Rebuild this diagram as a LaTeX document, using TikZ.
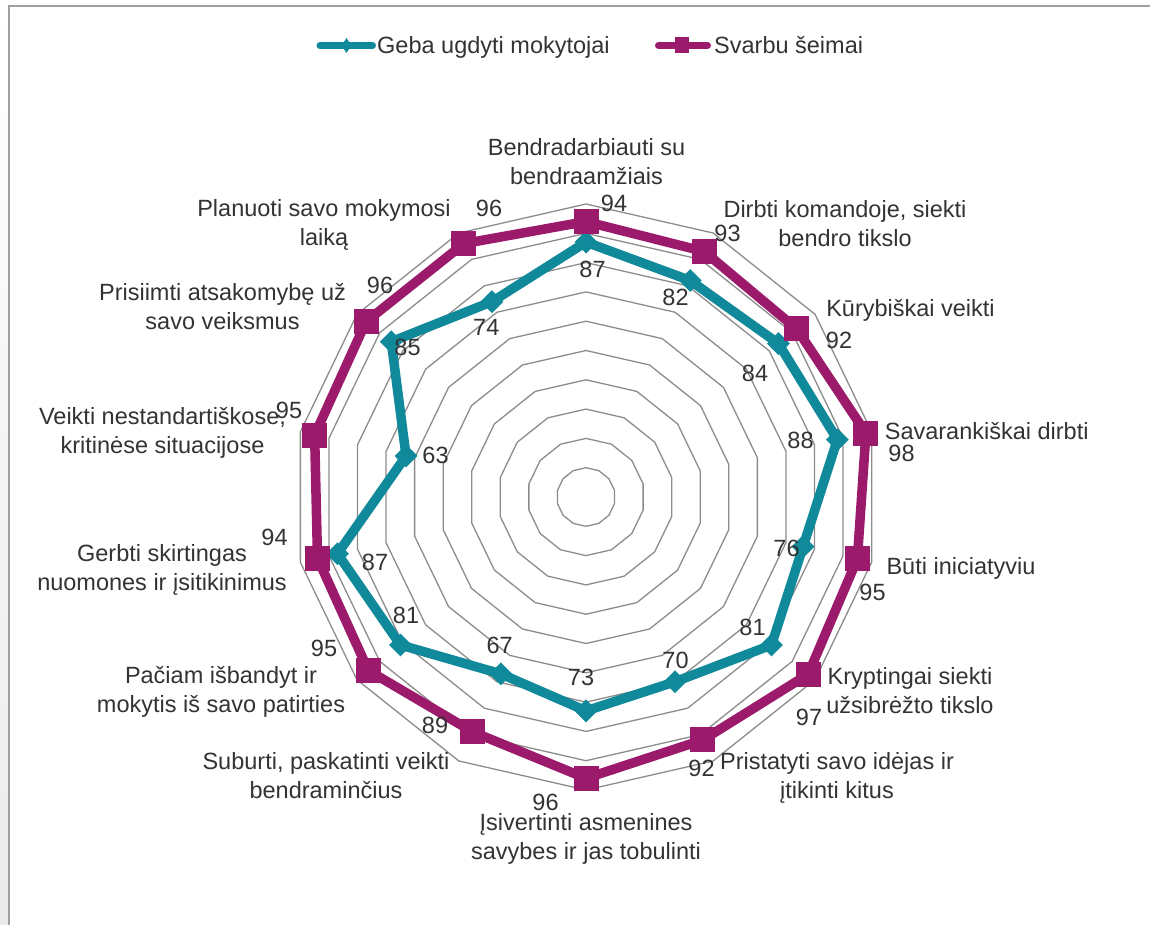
\documentclass[tikz,border=0pt]{standalone}
\usepackage{fontspec}
\setmainfont{Liberation Sans}
\usetikzlibrary{shapes.geometric}
\definecolor{tealc}{HTML}{10899A}
\definecolor{magc}{HTML}{9C1A6C}
\definecolor{gridc}{HTML}{8C8C8C}
\definecolor{txtc}{HTML}{333333}
\definecolor{framec}{HTML}{A0A0A0}
\begin{document}
\begin{tikzpicture}[x=1pt,y=-1pt,
  txt/.style={font=\fontsize{23.5}{29}\selectfont, text=txtc, inner sep=0pt, anchor=base, align=center},
  val/.style={font=\fontsize{23.5}{29}\selectfont, text=txtc, inner sep=0pt, anchor=base},
  ringline/.style={draw=gridc, line width=1.3pt, line join=miter},
  tealline/.style={draw=tealc, line width=9.5pt, line join=round},
  magline/.style={draw=magc, line width=9.5pt, line join=round},
  tmark/.style={diamond, fill=tealc, inner sep=0pt, minimum width=23pt, minimum height=23pt},
  mmark/.style={rectangle, fill=magc, inner sep=0pt, minimum width=25pt, minimum height=25pt}]
\useasboundingbox (0,0) rectangle (1150,925);
\fill[white] (0,0) rectangle (1150,925);
\shade[top color=white, bottom color=black!8] (0,0) rectangle (8,925);
\draw[framec, line width=2pt] (8.5,925) -- (8.5,6.5) -- (1150,6.5);

% legend
\coordinate (la1) at (320,45.5);
\coordinate (la2) at (372.5,45.5);
\coordinate (lb1) at (658.5,45.5);
\coordinate (lb2) at (707.5,45.5);
\draw[tealc, line width=7pt, line cap=round] (la1) -- (la2);
\node[diamond, fill=tealc, inner sep=0pt, minimum width=10pt, minimum height=15pt] (lam) at (346.5,45.5) {};
\node[val, anchor=base west] (lat) at (377,53.3) {Geba ugdyti mokytojai};
\draw[magc, line width=7pt, line cap=round] (lb1) -- (lb2);
\node[rectangle, fill=magc, inner sep=0pt, minimum width=14pt, minimum height=16pt] (lbm) at (682,45.5) {};
\node[val, anchor=base west] (lbt) at (714,53.3) {Svarbu šeimai};

\begin{scope}[shift={(586,497)}]
  % grid rings
  \foreach \r in {1,...,10}{
    \draw[ringline] (-90:\r*29.3) \foreach \k in {1,...,13}{ -- (\k*360/14-90:\r*29.3)} -- cycle;
  }
  % data points
  \foreach \v [count=\i from 0] in {87,82,84,88,76,81,70,73,67,81,87,63,85,74}{
    \coordinate (t\i) at (\i*360/14-90:\v*2.93);
  }
  \foreach \v [count=\i from 0] in {94,93,92,98,95,97,92,96,89,95,94,95,96,96}{
    \coordinate (m\i) at (\i*360/14-90:\v*2.93);
  }
  \draw[tealline] (t0) -- (t1) -- (t2) -- (t3) -- (t4) -- (t5) -- (t6) -- (t7) -- (t8) -- (t9) -- (t10) -- (t11) -- (t12) -- (t13) -- cycle;
  \foreach \i in {0,...,13}{ \node[tmark] (tm\i) at (t\i) {}; }
  \draw[magline] (m0) -- (m1) -- (m2) -- (m3) -- (m4) -- (m5) -- (m6) -- (m7) -- (m8) -- (m9) -- (m10) -- (m11) -- (m12) -- (m13) -- cycle;
  \foreach \i in {0,...,13}{ \node[mmark] (mm\i) at (m\i) {}; }
\end{scope}

% value labels, Svarbu seimai
\node[val, anchor=base] (vm0) at (614,211.7) {94};
\node[val, anchor=base] (vm1) at (727.5,241.7) {93};
\node[val, anchor=base] (vm2) at (839,348.3) {92};
\node[val, anchor=base] (vm3) at (901.5,461.7) {98};
\node[val, anchor=base] (vm4) at (872.5,600) {95};
\node[val, anchor=base] (vm5) at (809,725) {97};
\node[val, anchor=base] (vm6) at (701.5,776.7) {92};
\node[val, anchor=base] (vm7) at (545.5,810) {96};
\node[val, anchor=base] (vm8) at (435,733.3) {89};
\node[val, anchor=base] (vm9) at (324,656.7) {95};
\node[val, anchor=base] (vm10) at (274.5,545) {94};
\node[val, anchor=base] (vm11) at (289,418.3) {95};
\node[val, anchor=base] (vm12) at (380,293.3) {96};
\node[val, anchor=base] (vm13) at (489,216.7) {96};
% value labels, Geba ugdyti mokytojai
\node[val, anchor=base] (vt0) at (592.5,277.3) {87};
\node[val, anchor=base] (vt1) at (675.5,305.7) {82};
\node[val, anchor=base] (vt2) at (755,381.7) {84};
\node[val, anchor=base] (vt3) at (800.5,448.3) {88};
\node[val, anchor=base] (vt4) at (786.5,556.7) {76};
\node[val, anchor=base] (vt5) at (752.5,635) {81};
\node[val, anchor=base] (vt6) at (675.5,668.3) {70};
\node[val, anchor=base] (vt7) at (581,685) {73};
\node[val, anchor=base] (vt8) at (499.7,653.3) {67};
\node[val, anchor=base] (vt9) at (406,623.3) {81};
\node[val, anchor=base] (vt10) at (375,570.7) {87};
\node[val, anchor=base] (vt11) at (435.5,463.3) {63};
\node[val, anchor=base] (vt12) at (407.5,355) {85};
\node[val, anchor=base] (vt13) at (486.3,335) {74};

% category labels (base anchor = baseline of the last line)
\node[txt] (c0) at (586.5,185) {Bendradarbiauti su\\bendraamžiais};
\node[txt] (c1) at (845,247) {Dirbti komandoje, siekti\\bendro tikslo};
\node[txt] (c2) at (910.5,316) {Kūrybiškai veikti};
\node[txt] (c3) at (986.7,439) {Savarankiškai dirbti};
\node[txt] (c4) at (961,574) {Būti iniciatyviu};
\node[txt] (c5) at (910,713) {Kryptingai siekti\\užsibrėžto tikslo};
\node[txt] (c6) at (837,798) {Pristatyti savo idėjas ir\\įtikinti kitus};
\node[txt] (c7) at (586,859) {Įsivertinti asmenines\\savybes ir jas tobulinti};
\node[txt] (c8) at (326,798) {Suburti, paskatinti veikti\\bendraminčius};
\node[txt] (c9) at (221,712) {Pačiam išbandyt ir\\mokytis iš savo patirties};
\node[txt] (c10) at (162,590) {Gerbti skirtingas\\nuomones ir įsitikinimus};
\node[txt] (c11) at (162.5,453) {Veikti nestandartiškose,\\kritinėse situacijose};
\node[txt] (c12) at (222.5,329.5) {Prisiimti atsakomybę už\\savo veiksmus};
\node[txt] (c13) at (324,246) {Planuoti savo mokymosi\\laiką};
\end{tikzpicture}
\end{document}
